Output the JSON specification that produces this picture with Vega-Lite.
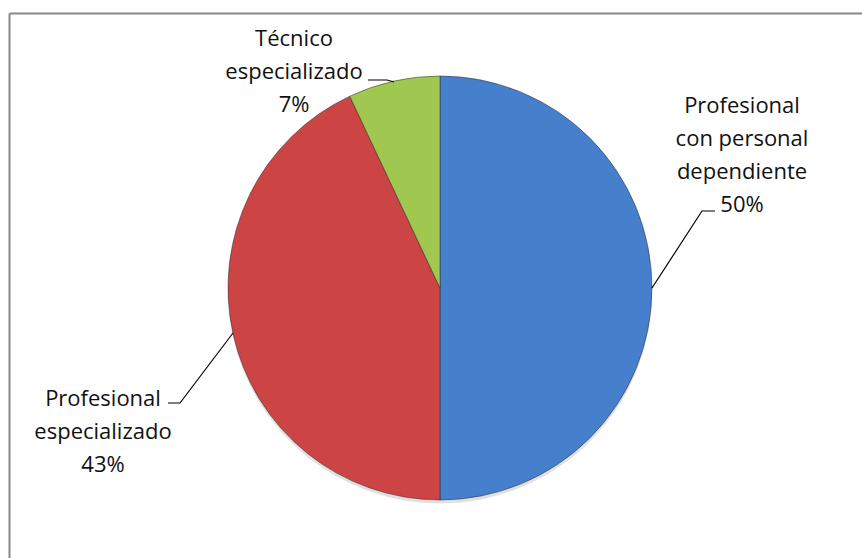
{
  "$schema": "https://vega.github.io/schema/vega-lite/v6.json",
  "width": 853,
  "height": 545,
  "autosize": {"type": "none"},
  "padding": {"left": 9, "top": 13, "right": 0, "bottom": 0},
  "background": "#ffffff",
  "config": {"view": {"stroke": null}},
  "datasets": {
    "pie": [
      {"i": 1, "categoria": "Profesional con personal dependiente", "porcentaje": 50},
      {"i": 2, "categoria": "Profesional especializado", "porcentaje": 43},
      {"i": 3, "categoria": "Técnico especializado", "porcentaje": 7}
    ],
    "labels": [
      {"texto": "Profesional\ncon personal\ndependiente\n50%", "lx": 742, "ly": 106},
      {"texto": "Profesional\nespecializado\n43%", "lx": 103, "ly": 399},
      {"texto": "Técnico\nespecializado\n7%", "lx": 294, "ly": 39}
    ],
    "leaders": [
      {"id": "a", "k": 1, "px": 652, "py": 288},
      {"id": "a", "k": 2, "px": 702, "py": 211},
      {"id": "a", "k": 3, "px": 715, "py": 211},
      {"id": "b", "k": 1, "px": 233, "py": 333},
      {"id": "b", "k": 2, "px": 180, "py": 403},
      {"id": "b", "k": 3, "px": 168, "py": 403},
      {"id": "c", "k": 1, "px": 368, "py": 80},
      {"id": "c", "k": 2, "px": 387, "py": 80},
      {"id": "c", "k": 3, "px": 394, "py": 82}
    ]
  },
  "layer": [
    {
      "data": {"name": "pie"},
      "mark": {"type": "arc", "outerRadius": 212, "xOffset": 4.5, "yOffset": 6, "color": "#000000", "opacity": 0.12},
      "encoding": {
        "theta": {"field": "porcentaje", "type": "quantitative", "stack": true},
        "order": {"field": "i", "type": "quantitative"}
      }
    },
    {
      "data": {"name": "pie"},
      "mark": {"type": "arc", "outerRadius": 212, "xOffset": 4.5, "yOffset": 2.5, "stroke": "#222222", "strokeWidth": 0.8, "strokeOpacity": 0.6},
      "encoding": {
        "theta": {"field": "porcentaje", "type": "quantitative", "stack": true},
        "order": {"field": "i", "type": "quantitative"},
        "color": {
          "field": "categoria",
          "type": "nominal",
          "scale": {
            "domain": ["Profesional con personal dependiente", "Profesional especializado", "Técnico especializado"],
            "range": ["#4680cd", "#cc4443", "#a0c750"]
          },
          "legend": null
        }
      }
    },
    {
      "data": {"name": "leaders"},
      "mark": {"type": "line", "color": "#000000", "strokeWidth": 1.2},
      "encoding": {
        "x": {"field": "px", "type": "quantitative", "scale": {"domain": [9, 862], "nice": false, "zero": false},
              "axis": {"orient": "top", "labels": false, "ticks": false, "grid": false, "title": null, "domainColor": "#888888", "domainWidth": 2}},
        "y": {"field": "py", "type": "quantitative", "scale": {"domain": [13, 558], "nice": false, "zero": false, "reverse": true},
              "axis": {"orient": "left", "labels": false, "ticks": false, "grid": false, "title": null, "domainColor": "#888888", "domainWidth": 2}},
        "detail": {"field": "id", "type": "nominal"},
        "order": {"field": "k", "type": "quantitative"}
      }
    },
    {
      "data": {"name": "labels"},
      "mark": {"type": "text", "font": "Open Sans", "fontSize": 22, "lineHeight": 33, "align": "center", "baseline": "middle", "color": "#111111", "lineBreak": "\n"},
      "encoding": {
        "x": {"field": "lx", "type": "quantitative", "scale": {"domain": [9, 862], "nice": false, "zero": false}},
        "y": {"field": "ly", "type": "quantitative", "scale": {"domain": [13, 558], "nice": false, "zero": false, "reverse": true}},
        "text": {"field": "texto", "type": "nominal"}
      }
    }
  ]
}
